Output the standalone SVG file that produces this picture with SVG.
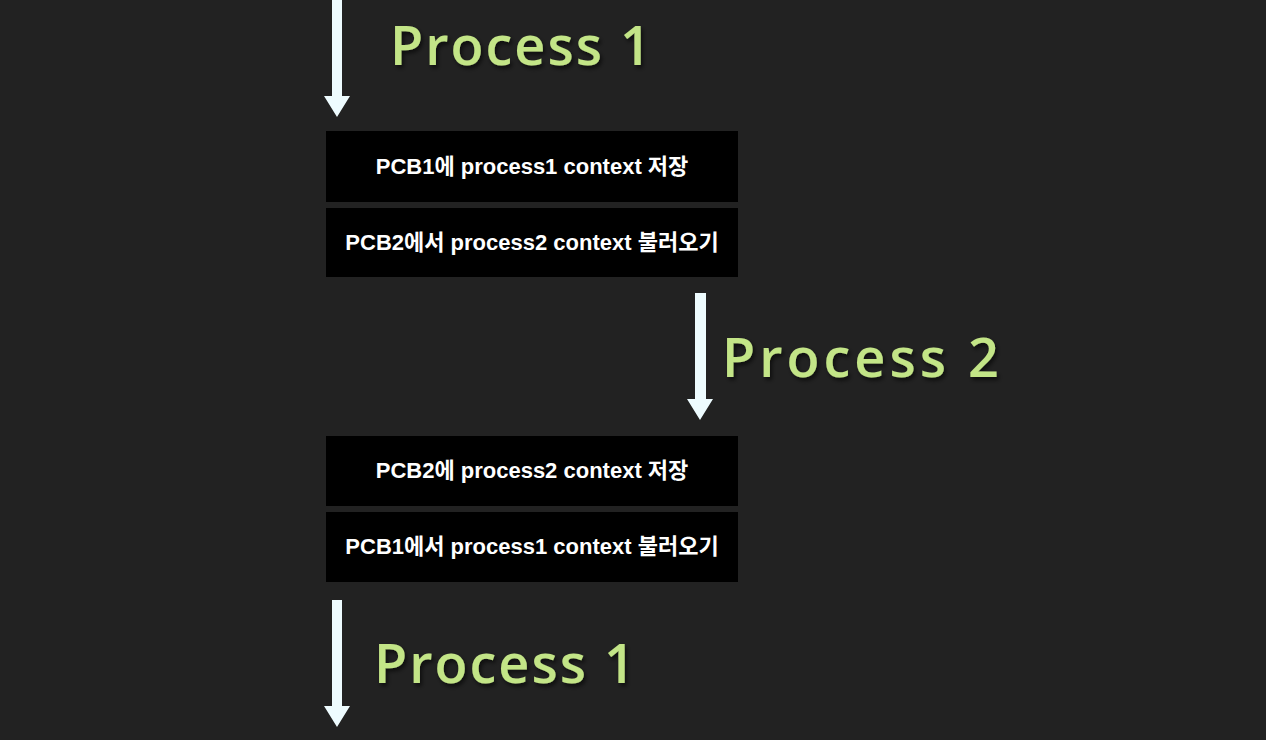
<svg xmlns="http://www.w3.org/2000/svg" width="1266" height="740" viewBox="0 0 1266 740">
<defs>
<style>
.box{fill:#000000;}
.bt{fill:#ffffff;font-family:"Liberation Sans","Noto Sans CJK KR",sans-serif;font-weight:bold;font-size:22px;text-anchor:middle;}
.hand{fill:#c3e587;font-family:"Open Sans","Noto Sans",sans-serif;font-weight:600;font-size:54px;letter-spacing:2px;filter:url(#sh);}
.arr{fill:#eefcff;}
</style>
<filter id="sh" x="-10%" y="-30%" width="120%" height="160%">
<feDropShadow dx="2" dy="3" stdDeviation="2" flood-color="#000000" flood-opacity="0.6"/>
</filter>
</defs>
<rect width="1266" height="740" fill="#222222"/>
<g id="connectors">
<polygon class="arr" points="332,0 342,0 342,96 350,96 337,117 324,96 332,96"/>
<polygon class="arr" points="695,293 706,293 706,399 713,399 700,420 687,399 695,399"/>
<polygon class="arr" points="332,600 342,600 342,706 350,706 337,727 324,706 332,706"/>
</g>
<g id="label-process1-top"><text class="hand" x="390" y="65">Process 1</text></g>
<g id="label-process2"><text class="hand" x="722" y="377" style="letter-spacing:4px">Process 2</text></g>
<g id="label-process1-bottom"><text class="hand" x="374" y="683">Process 1</text></g>
<g id="node-save-pcb1"><rect class="box" x="326" y="131" width="412" height="71"/><text class="bt" x="532" y="174">PCB1에 process1 context 저장</text></g>
<g id="node-load-pcb2"><rect class="box" x="326" y="208" width="412" height="69"/><text class="bt" x="532" y="250">PCB2에서 process2 context 불러오기</text></g>
<g id="node-save-pcb2"><rect class="box" x="326" y="436" width="412" height="70"/><text class="bt" x="532" y="478">PCB2에 process2 context 저장</text></g>
<g id="node-load-pcb1"><rect class="box" x="326" y="512" width="412" height="70"/><text class="bt" x="532" y="554">PCB1에서 process1 context 불러오기</text></g>
</svg>
